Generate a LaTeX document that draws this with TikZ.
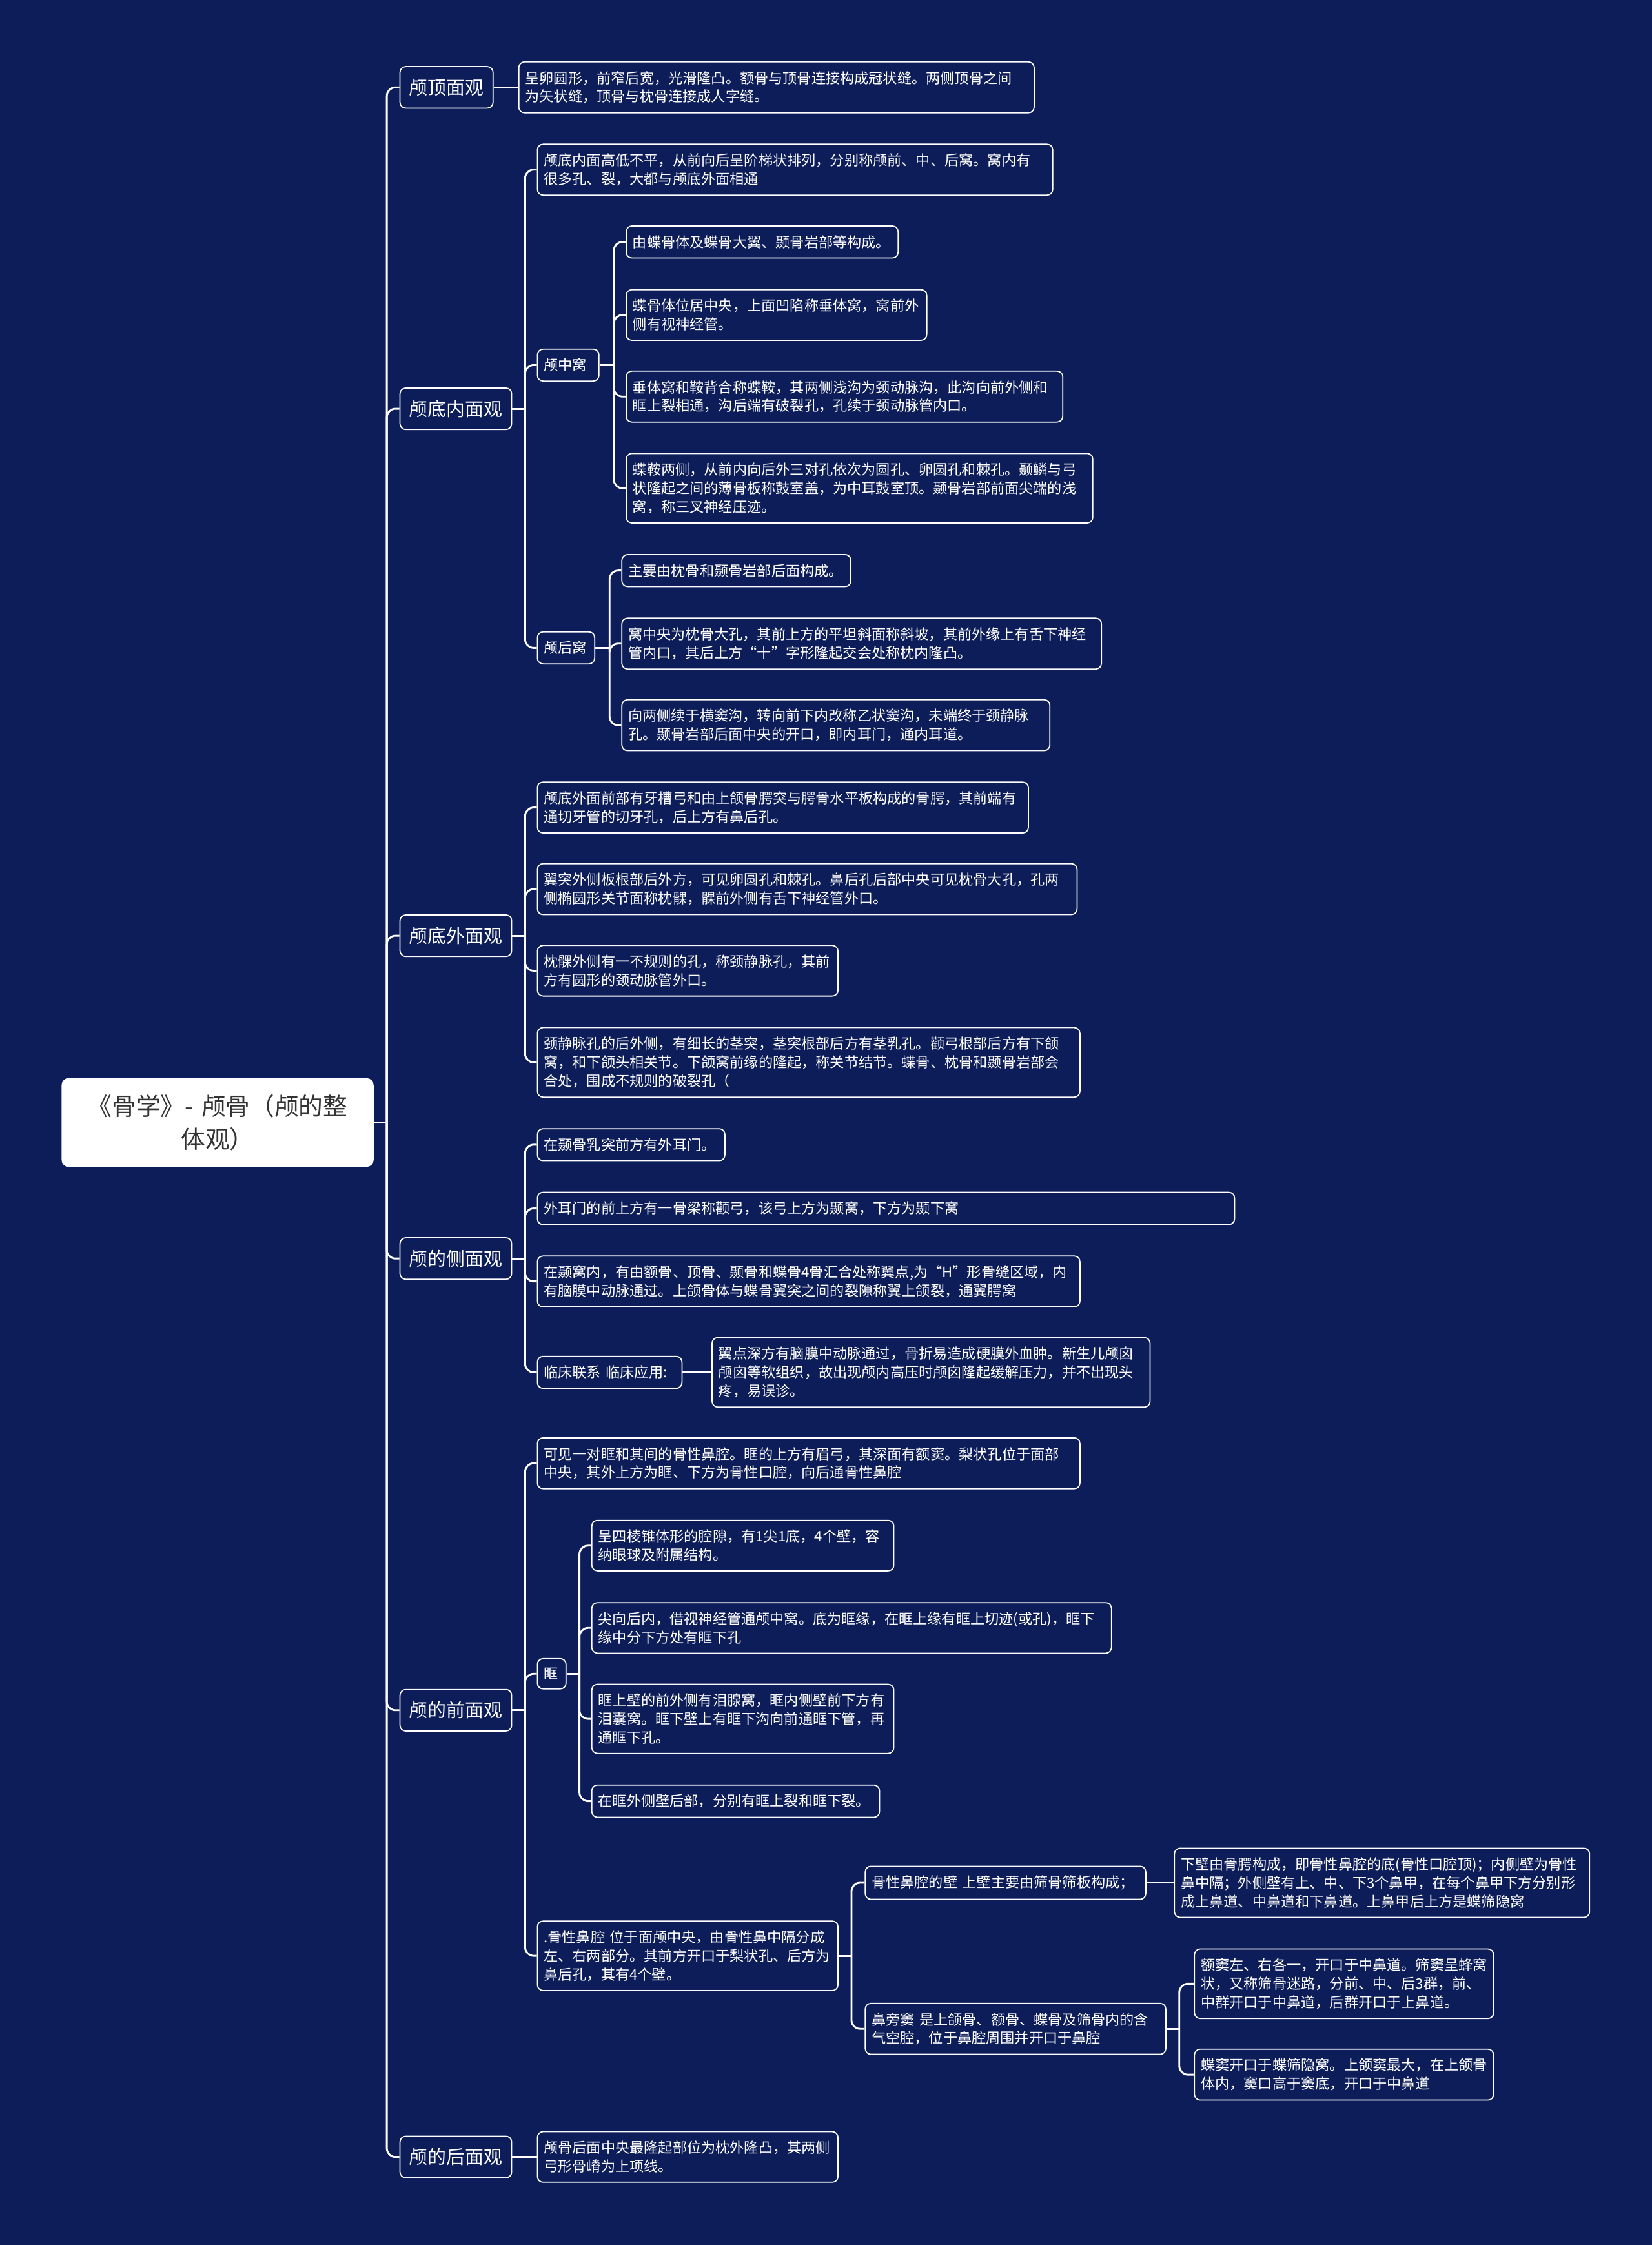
\documentclass[tikz,border=0pt]{standalone}
\usepackage{fontspec}
\setmainfont{Noto Sans CJK SC}
\definecolor{bgblue}{RGB}{12,29,89}

\begin{document}
\begin{tikzpicture}[x=1pt,y=-1pt,
    root/.style={fill=white,rounded corners=5pt,text=black!80,font=\fontsize{17}{23}\selectfont,
        align=center,text width=205pt,minimum width=218pt,minimum height=62pt},
    topic/.style={draw=white,line width=0.8pt,fill=bgblue,rounded corners=4pt,text=white,
        font=\fontsize{13}{16}\selectfont,inner xsep=6.5pt,inner ysep=2pt,minimum height=29pt,anchor=west},
    leaf/.style={draw=white,line width=0.8pt,fill=bgblue,rounded corners=4pt,text=white,
        font=\fontsize{10}{13}\selectfont,align=left,inner xsep=4.5pt,inner ysep=6.5pt,anchor=west},
    link/.style={white,line width=1.3pt,rounded corners=6pt}]

    % Background
    \fill[bgblue] (0,0) rectangle (1154,1568);
    \useasboundingbox (0,0) rectangle (1154,1568);

    % Root
    \node[root] (root) at (152,784) {《骨学》- 颅骨（颅的整\\体观）};

    % Views
    \node[topic] (vtop) at (279,61) {颅顶面观};
    \node[topic] (vbasein) at (279,285.5) {颅底内面观};
    \node[topic] (vbaseout) at (279,653.5) {颅底外面观};
    \node[topic] (vside) at (279,879) {颅的侧面观};
    \node[topic] (vfront) at (279,1194.5) {颅的前面观};
    \node[topic] (vback) at (279,1506.5) {颅的后面观};

    % Top view
    \node[leaf,text width=351pt] (top1) at (362,61) {呈卵圆形，前窄后宽，光滑隆凸。额骨与顶骨连接构成冠状缝。两侧顶骨之间\\为矢状缝，顶骨与枕骨连接成人字缝。};

    % Inner base
    \node[leaf,text width=351pt] (bin1) at (375,118.5) {颅底内面高低不平，从前向后呈阶梯状排列，分别称颅前、中、后窝。窝内有\\很多孔、裂，大都与颅底外面相通};
    \node[leaf,text width=34pt] (midf) at (375,255) {颅中窝};
    \node[leaf,text width=181pt] (midf1) at (437,169) {由蝶骨体及蝶骨大翼、颞骨岩部等构成。};
    \node[leaf,text width=201pt] (midf2) at (437,220) {蝶骨体位居中央，上面凹陷称垂体窝，窝前外\\侧有视神经管。};
    \node[leaf,text width=296pt] (midf3) at (437,277) {垂体窝和鞍背合称蝶鞍，其两侧浅沟为颈动脉沟，此沟向前外侧和\\眶上裂相通，沟后端有破裂孔，孔续于颈动脉管内口。};
    \node[leaf,text width=317pt] (midf4) at (437,341) {蝶鞍两侧，从前内向后外三对孔依次为圆孔、卵圆孔和棘孔。颞鳞与弓\\状隆起之间的薄骨板称鼓室盖，为中耳鼓室顶。颞骨岩部前面尖端的浅\\窝，称三叉神经压迹。};
    \node[leaf,text width=31pt] (postf) at (375,452.5) {颅后窝};
    \node[leaf,text width=151pt] (postf1) at (434,398.5) {主要由枕骨和颞骨岩部后面构成。};
    \node[leaf,text width=326pt] (postf2) at (434,449.5) {窝中央为枕骨大孔，其前上方的平坦斜面称斜坡，其前外缘上有舌下神经\\管内口，其后上方“十”字形隆起交会处称枕内隆凸。};
    \node[leaf,text width=290pt] (postf3) at (434,506.5) {向两侧续于横窦沟，转向前下内改称乙状窦沟，未端终于颈静脉\\孔。颞骨岩部后面中央的开口，即内耳门，通内耳道。};

    % Outer base
    \node[leaf,text width=334pt] (bout1) at (375,564) {颅底外面前部有牙槽弓和由上颌骨腭突与腭骨水平板构成的骨腭，其前端有\\通切牙管的切牙孔，后上方有鼻后孔。};
    \node[leaf,text width=368pt] (bout2) at (375,621) {翼突外侧板根部后外方，可见卵圆孔和棘孔。鼻后孔后部中央可见枕骨大孔，孔两\\侧椭圆形关节面称枕髁，髁前外侧有舌下神经管外口。};
    \node[leaf,text width=201pt] (bout3) at (375,678) {枕髁外侧有一不规则的孔，称颈静脉孔，其前\\方有圆形的颈动脉管外口。};
    \node[leaf,text width=370pt] (bout4) at (375,742) {颈静脉孔的后外侧，有细长的茎突，茎突根部后方有茎乳孔。颧弓根部后方有下颌\\窝，和下颌头相关节。下颌窝前缘的隆起，称关节结节。蝶骨、枕骨和颞骨岩部会\\合处，围成不规则的破裂孔（};

    % Side view
    \node[leaf,text width=122pt] (side1) at (375,799.5) {在颞骨乳突前方有外耳门。};
    \node[leaf,text width=478pt] (side2) at (375,844) {外耳门的前上方有一骨梁称颧弓，该弓上方为颞窝，下方为颞下窝};
    \node[leaf,text width=370pt] (side3) at (375,895) {在颞窝内，有由额骨、顶骨、颞骨和蝶骨4骨汇合处称翼点,为“H”形骨缝区域，内\\有脑膜中动脉通过。上颌骨体与蝶骨翼突之间的裂隙称翼上颌裂，通翼腭窝};
    \node[leaf,text width=92pt] (clin) at (375,958.5) {临床联系 临床应用:};
    \node[leaf,text width=297pt] (clin1) at (497,958.5) {翼点深方有脑膜中动脉通过，骨折易造成硬膜外血肿。新生儿颅囟\\颅囟等软组织，故出现颅内高压时颅囟隆起缓解压力，并不出现头\\疼，易误诊。};

    % Front view
    \node[leaf,text width=370pt] (front1) at (375,1022) {可见一对眶和其间的骨性鼻腔。眶的上方有眉弓，其深面有额窦。梨状孔位于面部\\中央，其外上方为眶、下方为骨性口腔，向后通骨性鼻腔};
    \node[leaf,text width=11pt] (orbit) at (375,1169) {眶};
    \node[leaf,text width=202pt] (orbit1) at (413,1079.5) {呈四棱锥体形的腔隙，有1尖1底，4个壁，容\\纳眼球及附属结构。};
    \node[leaf,text width=354pt] (orbit2) at (413,1137) {尖向后内，借视神经管通颅中窝。底为眶缘，在眶上缘有眶上切迹(或孔)，眶下\\缘中分下方处有眶下孔};
    \node[leaf,text width=202pt] (orbit3) at (413,1200.5) {眶上壁的前外侧有泪腺窝，眶内侧壁前下方有\\泪囊窝。眶下壁上有眶下沟向前通眶下管，再\\通眶下孔。};
    \node[leaf,text width=192pt] (orbit4) at (413,1258) {在眶外侧壁后部，分别有眶上裂和眶下裂。};
    \node[leaf,text width=201pt] (nasal) at (375,1366) {.骨性鼻腔 位于面颅中央，由骨性鼻中隔分成\\左、右两部分。其前方开口于梨状孔、后方为\\鼻后孔，其有4个壁。};
    \node[leaf,text width=187pt] (nwall) at (604,1315) {骨性鼻腔的壁 上壁主要由筛骨筛板构成；};
    \node[leaf,text width=281pt] (nwall1) at (820,1315) {下壁由骨腭构成，即骨性鼻腔的底(骨性口腔顶)；内侧壁为骨性\\鼻中隔；外侧壁有上、中、下3个鼻甲，在每个鼻甲下方分别形\\成上鼻道、中鼻道和下鼻道。上鼻甲后上方是蝶筛隐窝};
    \node[leaf,text width=201pt] (sinus) at (604,1417) {鼻旁窦 是上颌骨、额骨、蝶骨及筛骨内的含\\气空腔，位于鼻腔周围并开口于鼻腔};
    \node[leaf,text width=200pt] (sinus1) at (834,1385.5) {额窦左、右各一，开口于中鼻道。筛窦呈蜂窝\\状，又称筛骨迷路，分前、中、后3群，前、\\中群开口于中鼻道，后群开口于上鼻道。};
    \node[leaf,text width=200pt] (sinus2) at (834,1449) {蝶窦开口于蝶筛隐窝。上颌窦最大，在上颌骨\\体内，窦口高于窦底，开口于中鼻道};

    % Back view
    \node[leaf,text width=201pt] (back1) at (375,1506.5) {颅骨后面中央最隆起部位为枕外隆凸，其两侧\\弓形骨嵴为上项线。};

    % Trunk
    \draw[link] (root.east) -- ++(9,0);
    \draw[link] (root.east) ++(9,0) |- (vtop.west);
    \draw[link] (root.east) ++(9,0) |- (vbasein.west);
    \draw[link] (root.east) ++(9,0) |- (vbaseout.west);
    \draw[link] (root.east) ++(9,0) |- (vside.west);
    \draw[link] (root.east) ++(9,0) |- (vfront.west);
    \draw[link] (root.east) ++(9,0) |- (vback.west);

    \draw[link] (vtop.east) -- (top1.west);

    % Inner base links
    \draw[link] (vbasein.east) -- ++(9,0);
    \draw[link] (vbasein.east) ++(9,0) |- (bin1.west);
    \draw[link] (vbasein.east) ++(9,0) |- (midf.west);
    \draw[link] (vbasein.east) ++(9,0) |- (postf.west);
    \draw[link] (midf.east) -- ++(10,0);
    \draw[link] (midf.east) ++(10,0) |- (midf1.west);
    \draw[link] (midf.east) ++(10,0) |- (midf2.west);
    \draw[link] (midf.east) ++(10,0) |- (midf3.west);
    \draw[link] (midf.east) ++(10,0) |- (midf4.west);
    \draw[link] (postf.east) -- ++(10,0);
    \draw[link] (postf.east) ++(10,0) |- (postf1.west);
    \draw[link] (postf.east) ++(10,0) |- (postf2.west);
    \draw[link] (postf.east) ++(10,0) |- (postf3.west);

    % Outer base links
    \draw[link] (vbaseout.east) -- ++(9,0);
    \draw[link] (vbaseout.east) ++(9,0) |- (bout1.west);
    \draw[link] (vbaseout.east) ++(9,0) |- (bout2.west);
    \draw[link] (vbaseout.east) ++(9,0) |- (bout3.west);
    \draw[link] (vbaseout.east) ++(9,0) |- (bout4.west);

    % Side links
    \draw[link] (vside.east) -- ++(9,0);
    \draw[link] (vside.east) ++(9,0) |- (side1.west);
    \draw[link] (vside.east) ++(9,0) |- (side2.west);
    \draw[link] (vside.east) ++(9,0) |- (side3.west);
    \draw[link] (vside.east) ++(9,0) |- (clin.west);
    \draw[link] (clin.east) -- (clin1.west);

    % Front links
    \draw[link] (vfront.east) -- ++(9,0);
    \draw[link] (vfront.east) ++(9,0) |- (front1.west);
    \draw[link] (vfront.east) ++(9,0) |- (orbit.west);
    \draw[link] (vfront.east) ++(9,0) |- (nasal.west);
    \draw[link] (orbit.east) -- ++(9,0);
    \draw[link] (orbit.east) ++(9,0) |- (orbit1.west);
    \draw[link] (orbit.east) ++(9,0) |- (orbit2.west);
    \draw[link] (orbit.east) ++(9,0) |- (orbit3.west);
    \draw[link] (orbit.east) ++(9,0) |- (orbit4.west);
    \draw[link] (nasal.east) -- ++(9,0);
    \draw[link] (nasal.east) ++(9,0) |- (nwall.west);
    \draw[link] (nasal.east) ++(9,0) |- (sinus.west);
    \draw[link] (nwall.east) -- (nwall1.west);
    \draw[link] (sinus.east) -- ++(9,0);
    \draw[link] (sinus.east) ++(9,0) |- (sinus1.west);
    \draw[link] (sinus.east) ++(9,0) |- (sinus2.west);

    % Back link
    \draw[link] (vback.east) -- (back1.west);
\end{tikzpicture}
\end{document}
